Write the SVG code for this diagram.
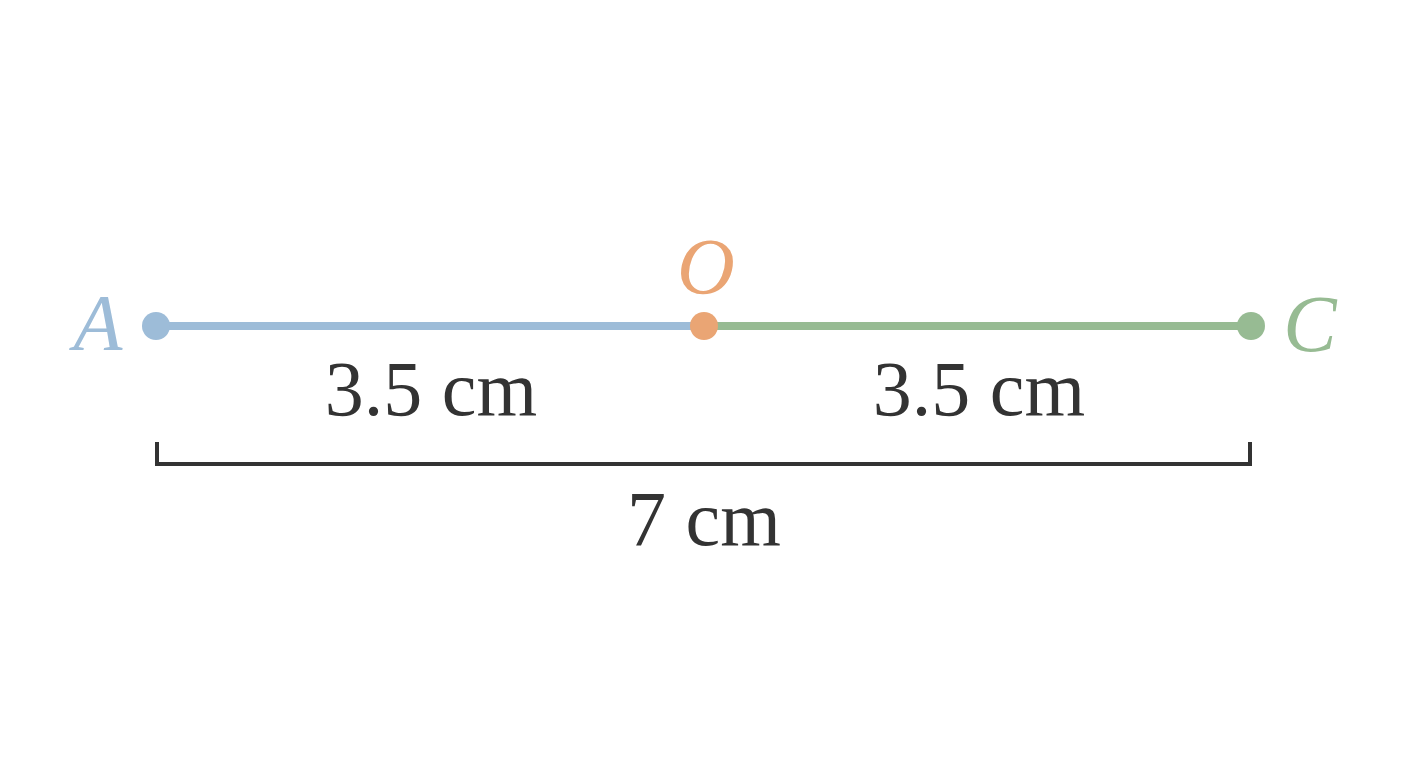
<svg xmlns="http://www.w3.org/2000/svg" width="1408" height="768" viewBox="0 0 1408 768">
<style>
.lbl{font-family:"Liberation Serif","Times New Roman",serif;font-style:italic;font-size:80px}
.num{font-family:"Liberation Serif","Times New Roman",serif;font-size:78px;fill:#333333;text-anchor:middle}
</style>
<rect width="1408" height="768" fill="#ffffff"/>
<g id="connectors">
<line x1="156" y1="326" x2="704" y2="326" stroke="#9dbcd8" stroke-width="8"/>
<line x1="704" y1="326" x2="1251" y2="326" stroke="#97bb93" stroke-width="8"/>
<polyline points="157,442 157,464 1250,464 1250,442" fill="none" stroke="#333333" stroke-width="4"/>
</g>
<g id="A"><circle cx="156" cy="326" r="14" fill="#9dbcd8"/><text class="lbl" x="98" y="350" fill="#9dbcd8" text-anchor="middle">A</text></g>
<g id="O"><circle cx="704" cy="326" r="14" fill="#eaa574"/><text class="lbl" x="706" y="294" fill="#eaa574" text-anchor="middle">O</text></g>
<g id="C"><circle cx="1251" cy="326" r="14" fill="#97bb93"/><text class="lbl" x="1310" y="351" fill="#97bb93" text-anchor="middle">C</text></g>
<g id="labels">
<text class="num" x="431" y="415">3.5 cm</text>
<text class="num" x="979" y="415">3.5 cm</text>
<text class="num" x="704" y="545">7 cm</text>
</g>
</svg>
